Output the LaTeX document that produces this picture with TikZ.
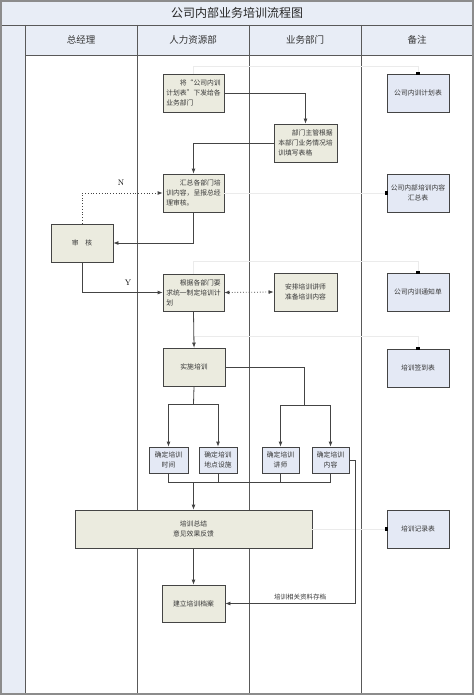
\documentclass[tikz,border=0pt]{standalone}
\usepackage{fontspec}
\newfontfamily\cjk{Noto Sans CJK SC}
\usetikzlibrary{arrows.meta}
\definecolor{beige}{HTML}{EBEBDF}
\definecolor{pale}{HTML}{E4E9F5}
\definecolor{band}{HTML}{E8EDF6}
\definecolor{lcol}{HTML}{444444}
\begin{document}
\begin{tikzpicture}[x=1pt,y=-1pt,
 bx/.style={draw=lcol, line width=0.8pt, inner sep=0pt, font=\cjk\fontsize{6.8}{10}\selectfont, text=black!78, align=left},
 tan/.style={bx, fill=beige},
 blu/.style={bx, fill=pale, align=center},
 arr/.style={draw=lcol, line width=0.8pt, -{Latex[length=5pt,width=4pt]}},
 conn/.style={draw=lcol, line width=0.8pt},
 faint/.style={draw=black!8, line width=0.8pt},
 lane/.style={draw=black!65, line width=0.9pt},
 sq/.style={fill=black, minimum size=3.5pt, inner sep=0pt},
 hdr/.style={font=\cjk\fontsize{9.5}{11}\selectfont, text=black!80},
 lbl/.style={font=\cjk\fontsize{6.5}{8}\selectfont, text=black!78}]
\useasboundingbox (0,0) rectangle (474,695);
% backgrounds
\fill[band] (0,0) rectangle (474,55);
\fill[band] (0,25) rectangle (25,695);
% lane lines
\draw[lane] (0,25) -- (474,25);
\draw[lane] (25,55) -- (474,55);
\foreach \x in {25,137,249,361} \draw[lane] (\x,25) -- (\x,695);
\draw[black!45, line width=2pt] (1,1) rectangle (473,694);
% title and headers
\node[font=\cjk\fontsize{12}{14}\selectfont, text=black!85] (title) at (237,13) {公司内部业务培训流程图};
\node[hdr] (h1) at (81,40) {总经理};
\node[hdr] (h2) at (193,40) {人力资源部};
\node[hdr] (h3) at (305,40) {业务部门};
\node[hdr] (h4) at (417,40) {备注};
% process boxes
\node[tan, minimum width=61pt, minimum height=38pt] (b1) at (193.5,93) {\hspace*{2em}将“公司内训\\计划表”下发给各\\业务部门};
\node[tan, minimum width=63pt, minimum height=38pt] (b2) at (305.5,143) {\hspace*{2em}部门主管根据\\本部门业务情况培\\训填写表格};
\node[tan, minimum width=61pt, minimum height=38pt] (b3) at (193.5,193) {\hspace*{2em}汇总各部门培\\训内容，呈报总经\\理审核。};
\node[tan, align=center, minimum width=62pt, minimum height=38pt] (sh) at (82,243) {审\quad 核};
\node[tan, minimum width=61pt, minimum height=37pt] (b5) at (193.5,292.5) {\hspace*{2em}根据各部门要\\求统一制定培训计\\划};
\node[tan, align=center, minimum width=63pt, minimum height=38pt] (b6) at (305.5,292) {安排培训讲师\\准备培训内容};
\node[tan, align=center, minimum width=62pt, minimum height=38pt] (b7) at (194,367) {实施培训};
\node[blu, minimum width=39pt, minimum height=26pt] (sa) at (168.5,460) {确定培训\\时间};
\node[blu, minimum width=38pt, minimum height=26pt] (sb) at (218,460) {确定培训\\地点设施};
\node[blu, minimum width=37pt, minimum height=26pt] (sc) at (280.5,460) {确定培训\\讲师};
\node[blu, minimum width=37pt, minimum height=26pt] (sd) at (330.5,460) {确定培训\\内容};
\node[tan, align=center, minimum width=237pt, minimum height=38pt] (sum) at (193.5,529) {培训总结\\意见效果反馈};
\node[tan, align=center, minimum width=63pt, minimum height=37pt] (arc) at (193.5,603.5) {建立培训档案};
% note boxes
\node[blu, minimum width=62pt, minimum height=38pt] (n1) at (418,93) {公司内训计划表};
\node[blu, minimum width=62pt, minimum height=38pt] (n2) at (418,193) {公司内部培训内容\\汇总表};
\node[blu, minimum width=62pt, minimum height=38pt] (n3) at (418,292) {公司内训通知单};
\node[blu, minimum width=62pt, minimum height=38pt] (n4) at (418,368) {培训签到表};
\node[blu, minimum width=62pt, minimum height=38pt] (n5) at (418,529) {培训记录表};
% faint links to notes
\draw[faint] (b1.north) -- ++(0,-7) -| (n1.north);
\draw[faint] (b3.east) -- (n2.west);
\draw[faint] (b5.north) -- ++(0,-12) -| (n3.north);
\draw[faint] (b7.north) -- ++(0,-11) -| (n4.north);
\draw[faint] (sum.east) -- (n5.west);
\node[sq] (q1) at (n1.north) {};
\node[sq] (q2) at (n2.west) {};
\node[sq] (q3) at (n3.north) {};
\node[sq] (q4) at (n4.north) {};
\node[sq] (q5) at (n5.west) {};
% connectors
\draw[arr] (b1.east) -| (b2.north);
\draw[arr] (b2.west) -| (b3.north);
\draw[arr] (b3.south) |- (sh.east);
\draw[arr, dotted] (sh.north) |- (b3.west);
\node[font=\fontsize{8}{9}\selectfont] (lN) at (121,183) {N};
\draw[arr] (sh.south) |- (b5.west);
\node[font=\fontsize{8}{9}\selectfont] (lY) at (128,283) {Y};
\draw[arr, dotted, {Latex[length=5pt,width=4pt]}-{Latex[length=5pt,width=4pt]}] (b5.east) -- (b6.west);
\draw[arr] (b5.south) -- (b7.north);
\coordinate (j1) at (193.5,404);
\draw[conn] (b7.south) -- (j1);
\draw[arr] (j1) -| (sa.north);
\draw[arr] (j1) -| (sb.north);
\coordinate (j2) at (304,405.5);
\draw[conn] (b7.east) -| (j2);
\draw[arr] (j2) -| (sc.north);
\draw[arr] (j2) -| (sd.north);
\coordinate (j3) at (193.5,482);
\draw[conn] (sa.south) |- (sd.south |- j3) -- (sd.south);
\draw[conn] (sb.south) -- (sb.south |- j3);
\draw[conn] (sc.south) -- (sc.south |- j3);
\draw[arr] (j3) -- (sum.north);
\draw[arr] (sum.south) -- (arc.north);
\coordinate (j4) at (355,460);
\draw[arr] (sd.east) -- (j4) |- (arc.east);
\node[lbl] (lA) at (300,597) {培训相关资料存档};
\end{tikzpicture}
\end{document}
